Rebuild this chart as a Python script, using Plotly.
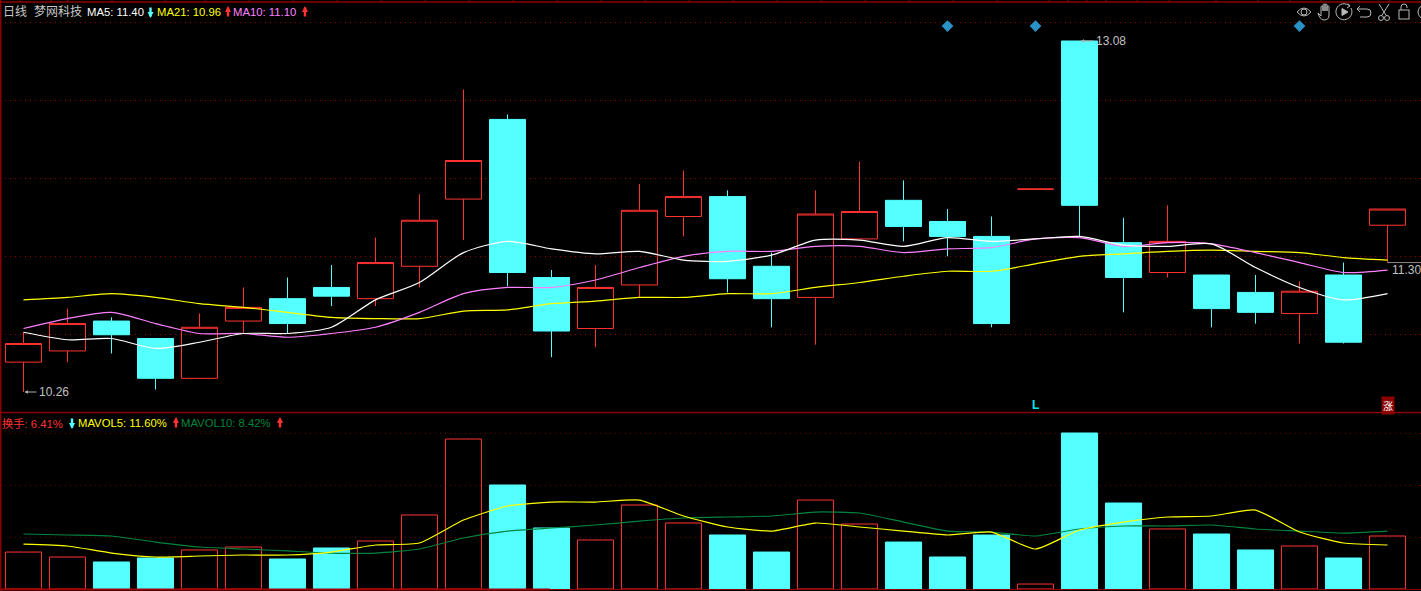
import base64
import plotly.graph_objects as go

W, H = 1421, 591

# ---- data -------------------------------------------------------------
days = list(range(32))
opens = [10.50,10.59,10.83,10.69,10.37,10.83,11.01,11.10,11.01,11.27,11.81,12.45,11.18,10.77,11.12,11.67,
         11.83,11.27,11.02,11.49,11.80,11.63,11.51,11.89,13.08,11.46,11.22,11.20,11.06,10.89,11.20,11.60]
highs = [10.74,10.93,10.86,10.69,10.89,11.10,11.18,11.28,11.50,11.85,12.69,12.49,11.24,11.28,11.93,12.04,
         11.88,11.38,11.88,12.11,11.96,11.73,11.67,11.89,13.08,11.66,11.76,11.20,11.20,11.15,11.30,11.73]
lows = [10.26,10.50,10.57,10.28,10.37,10.73,10.73,10.95,10.95,11.10,11.48,11.11,10.54,10.62,11.02,11.51,
        11.06,10.78,10.64,11.49,11.47,11.35,10.78,11.89,11.51,10.90,11.18,10.78,10.81,10.65,10.65,11.30]
closes = [10.65,10.81,10.72,10.37,10.78,10.94,10.81,11.03,11.30,11.64,12.12,11.22,10.75,11.10,11.72,11.83,
          11.17,11.01,11.69,11.71,11.59,11.51,10.81,11.89,11.76,11.18,11.47,10.93,10.90,11.07,10.66,11.73]
ma5 = [10.74,10.68,10.69,10.61,10.66,10.73,10.73,10.78,11.00,11.14,11.38,11.47,11.41,11.37,11.39,11.32,
       11.31,11.36,11.48,11.48,11.43,11.50,11.47,11.49,11.51,11.44,11.43,11.45,11.26,11.10,11.00,11.05]
ma10 = [10.77,10.85,10.90,10.81,10.73,10.73,10.70,10.73,10.78,10.90,11.05,11.10,11.10,11.16,11.26,11.35,
        11.39,11.39,11.43,11.43,11.38,11.41,11.42,11.49,11.50,11.43,11.46,11.45,11.38,11.30,11.22,11.24]
ma21 = [11.00,11.02,11.05,11.02,10.97,10.94,10.90,10.86,10.85,10.85,10.91,10.92,10.97,10.99,11.02,11.02,
        11.05,11.05,11.10,11.14,11.19,11.23,11.23,11.29,11.35,11.37,11.39,11.40,11.39,11.38,11.34,11.32]
turnover = [4.47,3.87,3.27,3.75,4.72,5.08,3.63,4.96,5.81,8.95,18.14,12.58,7.38,5.93,10.16,7.98,
            6.53,4.47,10.76,7.86,5.68,3.87,6.53,0.60,18.87,10.40,7.26,6.65,4.72,5.20,3.75,6.41]
mavol5 = [5.44,5.20,4.35,3.87,3.99,4.11,4.11,4.47,5.32,5.56,8.34,10.04,10.52,10.52,10.76,8.83,
          7.50,7.01,7.98,7.50,7.01,6.53,6.89,4.84,7.14,8.10,8.71,8.83,9.55,6.89,5.56,5.32]
mavol10 = [6.65,6.53,6.41,5.68,5.08,4.84,4.60,4.35,4.35,4.84,6.17,7.01,7.38,7.74,8.22,8.59,
           8.71,8.83,9.31,9.19,8.10,7.01,6.89,6.41,7.26,7.62,7.62,7.74,7.26,7.01,6.77,7.01]
up_days = [0,1,4,5,8,9,10,13,14,15,18,19,23,26,29,31]
signal_days = [21,23,29]
signal_price = [13.20,13.20,13.20]
price_grid = [13.228,12.602,11.975,11.349,10.722]
turnover_grid = [18.87,12.58,6.29]
tick_px = [20,51,68,112,165,205,249,293,337,381,425,469,513,557,601,645,689,733,777,821,865,909,953,997,
           1049,1068,1087,1106,1137,1169,1216,1258,1290,1321,1358,1389]

# ---- colours ----------------------------------------------------------
RED, CYAN = "#ff3232", "#54ffff"
DARK = "#8b0000"
CLEAR = "rgba(0,0,0,0)"
FONT = "Liberation Sans, Noto Sans CJK SC, sans-serif"

fig = go.Figure()
fig.add_trace(go.Candlestick(
    x=days, open=opens, high=highs, low=lows, close=closes, whiskerwidth=0, hoverinfo="skip",
    increasing=dict(line=dict(color=RED, width=1), fillcolor=CLEAR),
    decreasing=dict(line=dict(color=CYAN, width=1), fillcolor=CYAN),
    showlegend=False))
for vals, col in ((ma21, "#ffff00"), (ma10, "#ff80ff"), (ma5, "#ffffff")):
    fig.add_trace(go.Scatter(x=days, y=vals, mode="lines", hoverinfo="skip", showlegend=False,
                             line=dict(color=col, width=1.2, shape="spline", smoothing=0.7)))
# last-close pointer
fig.add_trace(go.Scatter(x=[31, 31.8], y=[lows[31], lows[31]], mode="lines", hoverinfo="skip",
                         showlegend=False, line=dict(color="#8a8a8a", width=1)))
fig.add_trace(go.Scatter(x=signal_days, y=signal_price, mode="markers", hoverinfo="skip", showlegend=False,
                         marker=dict(symbol="diamond", size=9, color="#2a93c4")))

fig.add_trace(go.Bar(
    x=days, y=turnover, width=0.82, yaxis="y2", hoverinfo="skip", showlegend=False,
    marker=dict(color=[CLEAR if d in up_days else CYAN for d in days],
                line=dict(color=[RED if d in up_days else CYAN for d in days], width=1))))
fig.add_trace(go.Scatter(x=days, y=mavol10, yaxis="y2", mode="lines", hoverinfo="skip", showlegend=False,
                         line=dict(color="#00843d", width=1.2, shape="spline", smoothing=0.5)))
fig.add_trace(go.Scatter(x=days, y=mavol5, yaxis="y2", mode="lines", hoverinfo="skip", showlegend=False,
                         line=dict(color="#ffff00", width=1.2, shape="spline", smoothing=0.5)))


def label(px, py, text, color, size=11.3, **kw):
    return dict(xref="paper", yref="paper", x=px / W, y=1 - py / H, text=text, showarrow=False,
                xanchor="left", yanchor="middle", font=dict(family=FONT, size=size, color=color),
                borderpad=0, **kw)


def arrow(px, py, up, color):
    # small heavy up/down arrow of the header rows
    return dict(xref="paper", yref="paper", x=px / W, y=1 - (py - 6 if up else py + 6) / H, text="",
                ax=0, ay=12 if up else -12, arrowhead=2, arrowsize=0.5, arrowwidth=2.4, arrowcolor=color,
                standoff=0, startstandoff=0)


ann = [
    label(2, 12, "日线", "#c8c8c8", 12), label(33, 12, "梦网科技", "#c8c8c8", 12),
    label(86, 12, "MA5: 11.40", "#ffffff"), arrow(150.5, 12, False, CYAN),
    label(156, 12, "MA21: 10.96", "#ffff00"), arrow(228, 12, True, RED),
    label(232, 12, "MA10: 11.10", "#ff80ff"), arrow(305, 12, True, RED),
    label(1, 423, "换手: 6.41%", RED), arrow(72, 423, False, CYAN),
    label(77, 423, "MAVOL5: 11.60%", "#ffff00"), arrow(176, 423, True, RED),
    label(180, 423, "MAVOL10: 8.42%", "#00843d"), arrow(280, 423, True, RED),
    label(1391, 270, "11.30", "#c0c0c0", 12),
    dict(x=0, y=min(lows), xref="x", yref="y", text="10.26", xanchor="left", yanchor="middle",
         ax=13, ay=0, arrowhead=2, arrowsize=0.7, arrowwidth=1, arrowcolor="#b0b0b0", standoff=1,
         font=dict(family=FONT, size=12, color="#c0c0c0")),
    dict(x=24, y=max(highs), xref="x", yref="y", text="13.08", xanchor="left", yanchor="middle",
         ax=14, ay=0, arrowhead=2, arrowsize=0.7, arrowwidth=1, arrowcolor="#b0b0b0", standoff=1,
         font=dict(family=FONT, size=12, color="#c0c0c0")),
    dict(x=23, y=10.155, xref="x", yref="y", text="<b>L</b>", showarrow=False,
         font=dict(family=FONT, size=12, color="#00e5ee")),
    dict(x=31, y=10.155, xref="x", yref="y", text="涨", showarrow=False, bgcolor=DARK, borderpad=1,
         font=dict(family="Noto Sans CJK SC", size=10, color="#ffffff")),
]

shapes = [
    dict(type="line", xref="paper", yref="paper", x0=0, x1=1, y0=1 - 2 / H, y1=1 - 2 / H, line=dict(color=DARK, width=1.5)),
    dict(type="line", xref="paper", yref="paper", x0=0, x1=1, y0=1 - 412.5 / H, y1=1 - 412.5 / H, line=dict(color=DARK, width=1.5)),
    dict(type="line", xref="paper", yref="paper", x0=0, x1=1, y0=1 - 589.5 / H, y1=1 - 589.5 / H, line=dict(color=DARK, width=1)),
    dict(type="line", xref="paper", yref="paper", x0=0, x1=550 / W, y0=1 - 589.5 / H, y1=1 - 589.5 / H, line=dict(color="#a00000", width=2)),
    dict(type="line", xref="paper", yref="paper", x0=0.7 / W, x1=0.7 / W, y0=0, y1=1, line=dict(color=DARK, width=1.5)),
]
for t in tick_px:
    shapes.append(dict(type="line", xref="paper", yref="paper", x0=t / W, x1=t / W, y0=1, y1=1 - 2 / H,
                       line=dict(color=DARK, width=1)))

icons = """<svg xmlns='http://www.w3.org/2000/svg' width='131' height='26' viewBox='0 0 131 26'>
<g fill='none' stroke='#b8b8b8' stroke-width='1'>
<path d='M7 12 Q14 4 21 12 Q14 20 7 12 Z'/><circle cx='14' cy='12' r='3'/>
<path d='M28 13 L31 16 V7 a1 1 0 0 1 2 0 V11 V5 a1 1 0 0 1 2 0 V11 V5 a1 1 0 0 1 2 0 V11 V7 a1 1 0 0 1 2 0 V15 Q39 20 34 20 Q30 20 28 13 Z'/>
<path d='M59.5 6 A8 8 0 1 0 61 8'/><path d='M58 3.5 L60 6 L57 8'/>
<path d='M52 8.5 L58 12 L52 15.5 Z' fill='#b8b8b8'/>
<path d='M70 6 L67 9 L70 12 M67 9 H77 A4 4 0 0 1 77 17 H70'/>
<path d='M89 4 L96 15 M99 4 L92 15'/><circle cx='91' cy='18' r='2.5'/><circle cx='97' cy='18' r='2.5'/>
<rect x='109' y='10' width='10' height='9'/><path d='M111 10 V7 A3 3 0 0 1 117 7 V8'/>
<circle cx='135' cy='12' r='7'/>
</g></svg>"""
icon_src = "data:image/svg+xml;base64," + base64.b64encode(icons.encode()).decode()

fig.update_layout(
    width=W, height=H, margin=dict(l=0, r=0, t=0, b=0),
    paper_bgcolor="#000000", plot_bgcolor="#000000", showlegend=False,
    boxgap=0.1818, boxgroupgap=0, bargap=0.18, annotations=ann, shapes=shapes,
    images=[dict(source=icon_src, xref="paper", yref="paper", x=1290 / W, y=1, sizex=131 / W, sizey=26 / H,
                 xanchor="left", yanchor="top", sizing="stretch", layer="above")],
    xaxis=dict(range=[-0.534, 31.761], showgrid=False, zeroline=False, showticklabels=False, ticks="",
               rangeslider=dict(visible=False), showline=False, fixedrange=True),
    yaxis=dict(domain=[179 / H, 1], range=[10.0994, 13.4094], tickvals=price_grid, showticklabels=False,
               ticks="", showgrid=True, gridcolor=DARK, griddash="1px,4px", gridwidth=1, zeroline=False,
               showline=False, fixedrange=True),
    yaxis2=dict(domain=[0, 179 / H], range=[-0.242, 21.41], tickvals=turnover_grid, showticklabels=False,
                ticks="", showgrid=True, gridcolor="#6a0000", griddash="1px,4px", gridwidth=1, zeroline=False,
                showline=False, anchor="x", fixedrange=True),
)

fig.write_html("out.html", config=dict(displayModeBar=False),
               post_script="document.body.style.margin='0';document.body.style.background='#000';document.body.style.overflow='hidden';")
